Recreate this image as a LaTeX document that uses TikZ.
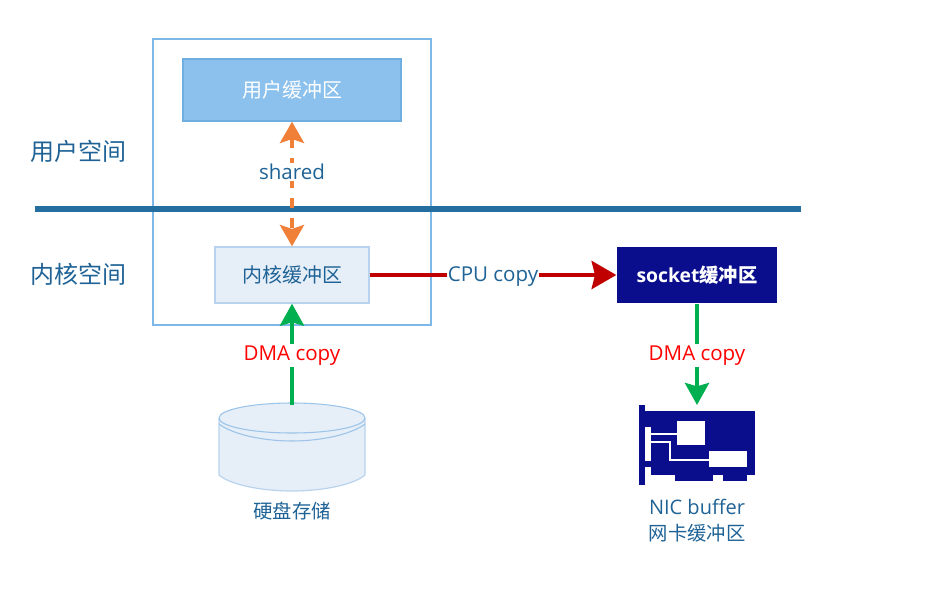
\documentclass[tikz,border=0pt]{standalone}
\usepackage{fontspec}
\setmainfont{Open Sans}
\newfontfamily\cjk{Noto Sans CJK SC}
\usetikzlibrary{arrows.meta}
\definecolor{txtblue}{HTML}{1F6396}
\definecolor{rule}{HTML}{256FA0}
\definecolor{outer}{HTML}{7DB8E8}
\definecolor{ubox}{HTML}{8BC1EC}
\definecolor{uboxb}{HTML}{6FAEE0}
\definecolor{kbox}{HTML}{E6EEF8}
\definecolor{kboxb}{HTML}{B9D3EE}
\definecolor{navy}{HTML}{0A0E8C}
\definecolor{orng}{HTML}{F07F37}
\definecolor{grn}{HTML}{00B050}
\definecolor{crim}{HTML}{C00000}
\tikzset{
  x=0.75pt,y=-0.75pt,
  bufbox/.style={minimum width=#1*0.75pt,inner sep=0pt,line width=1pt},
  lbl/.style={font=\fontsize{15}{18}\selectfont,text=txtblue,inner sep=0pt},
  clbl/.style={fill=white,inner xsep=0.5pt,inner ysep=1.5pt,yshift=-1pt,font=\fontsize{15.4}{18}\selectfont},
  conn/.style={line width=3pt},
  tipA/.style={-{Stealth[length=16.5pt,width=18pt,inset=2.5pt]}},
  tipR/.style={-{Stealth[length=18.5pt,width=21pt,inset=2.5pt]}},
  tipB/.style={{Stealth[length=16pt,width=18pt,inset=3pt]}-{Stealth[length=16pt,width=18pt,inset=3pt]}},
}
\begin{document}
\begin{tikzpicture}
\useasboundingbox (0,0) rectangle (930,598);
% outer frame
\node[draw=outer,line width=1pt,minimum width=208.5pt,minimum height=214.5pt,inner sep=0pt] (frame) at (292,182) {};
% boxes
\node[bufbox=218,minimum height=46.5pt,fill=ubox,draw=uboxb,text=white,font=\fontsize{15}{18}\cjk] (ubuf) at (292,90) {用户缓冲区};
\node[bufbox=154,minimum height=42pt,fill=kbox,draw=kboxb,text=txtblue,font=\fontsize{15}{18}\cjk] (kbuf) at (292,275) {内核缓冲区};
\node[bufbox=160,minimum height=42pt,fill=navy,text=white,font=\fontsize{14.5}{18}\selectfont\bfseries] (sbuf) at (697,275) {socket{\cjk\bfseries 缓冲区}};
% rule
\coordinate (ruleL) at (35,209);
\coordinate (ruleR) at (801,209);
\draw[rule,line width=4.5pt] (ruleL) -- (ruleR);
% side labels
\node[lbl,font=\fontsize{18}{22}\cjk] (uspace) at (78.5,151) {用户空间};
\node[lbl,font=\fontsize{18}{22}\cjk] (kspace) at (78.5,274) {内核空间};
% disk
\coordinate (disktop) at (292,405);
\fill[kbox] (219,418) arc[start angle=180,end angle=360,x radius=73,y radius=15] -- (365,475) .. controls (355,484) and (325,491) .. (292,491) .. controls (259,491) and (229,484) .. (219,475) -- cycle;
\draw[kboxb,line width=0.9pt] (219,418) -- (219,475) .. controls (229,484) and (259,491) .. (292,491) .. controls (325,491) and (355,484) .. (365,475) -- (365,418);
\draw[kboxb!60!uboxb,line width=0.8pt] (219,418) arc[start angle=180,end angle=540,x radius=73,y radius=15];
\draw[kboxb!60!uboxb,line width=0.8pt] (219,424) .. controls (232,434) and (262,441) .. (292,441) .. controls (322,441) and (352,434) .. (365,424);
\node[lbl,font=\fontsize{14.5}{18}\cjk] (disklbl) at (292,511) {硬盘存储};
% connectors
\draw[conn,orng,tipB,dash pattern=on 7.5pt off 7.5pt] (ubuf.south) -- (kbuf.north);
\node[clbl,text=txtblue,yshift=1pt,inner ysep=1pt] (shared) at (292,172) {shared};
\draw[conn,crim,line width=3.2pt,tipR] (kbuf.east) -- (sbuf.west) node[pos=0.5,clbl,text=txtblue,yshift=-0.5pt] (cpu) {CPU copy};
\draw[conn,grn,tipA] (disktop) -- (kbuf.south) node[pos=0.5,clbl,text=red] (dma1) {DMA copy};
\coordinate (nictop) at (697,405);
\draw[conn,grn,tipA] (sbuf.south) -- (nictop) node[pos=0.5,clbl,text=red] (dma2) {DMA copy};
% NIC card
\fill[navy] (639,405) rectangle (645,485);
\fill[navy] (645,411) rectangle (755,475);
\fill[navy] (675,475) rectangle (713,481);
\fill[navy] (723,475) rectangle (747,481);
\fill[white] (645,427) rectangle (651,461);
\fill[white] (645,467) rectangle (651,475);
\fill[white] (677,421) rectangle (705,445);
\fill[white] (709,451) rectangle (747,467);
\fill[white] (651,433) rectangle (677,435);
\fill[white] (651,441) rectangle (671,443);
\fill[white] (669,441) rectangle (671,461);
\fill[white] (669,459) rectangle (709,461);
\node[lbl] (nic1) at (697,507) {NIC buffer};
\node[lbl,font=\fontsize{14.5}{18}\cjk] (nic2) at (697,533) {网卡缓冲区};
\end{tikzpicture}
\end{document}
